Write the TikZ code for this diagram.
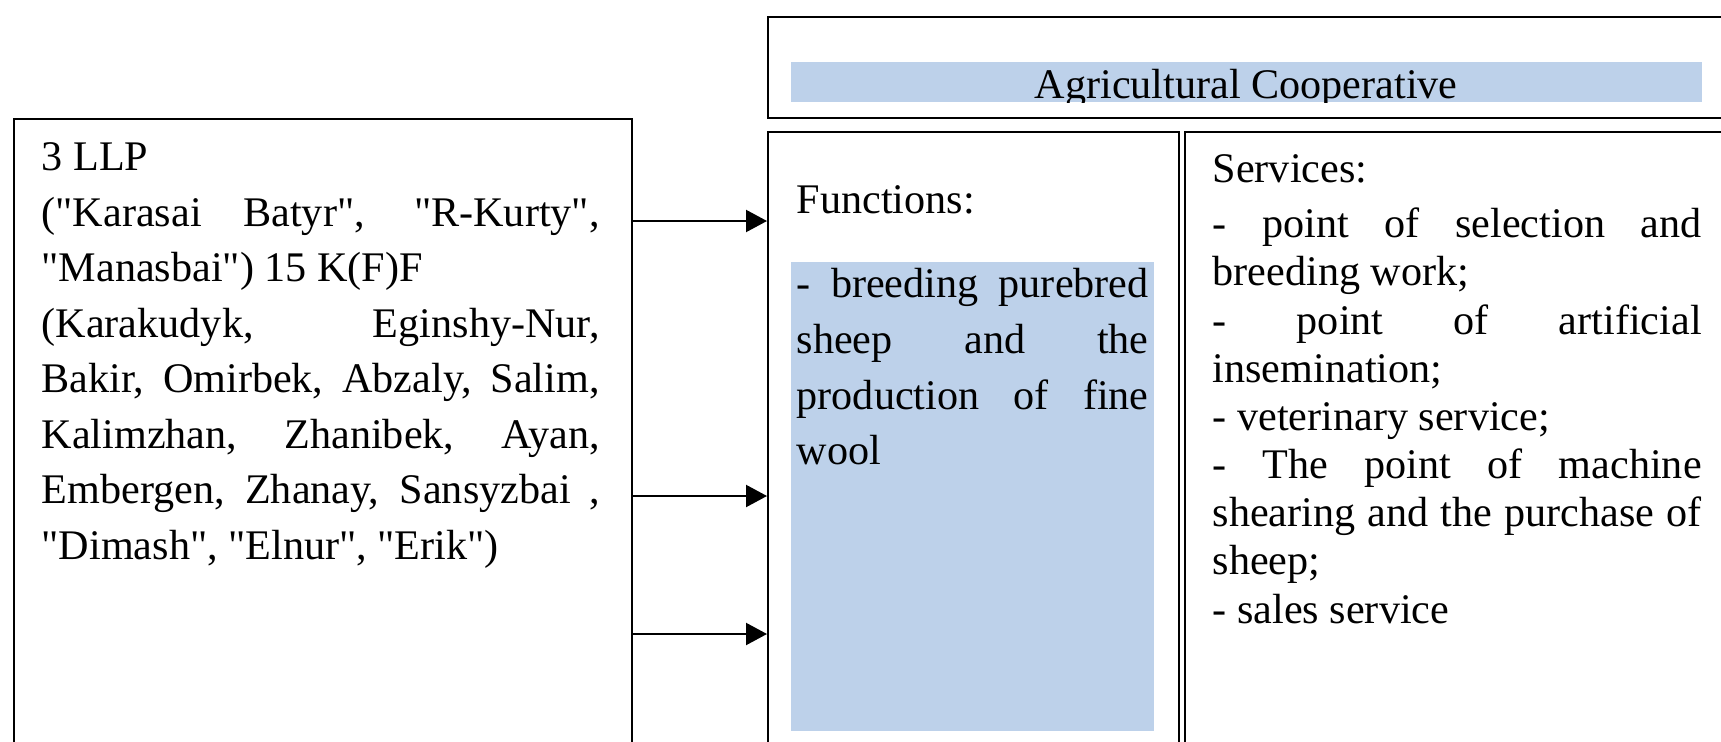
\documentclass[tikz,border=0pt]{standalone}
\usepackage{fontspec}
\setmainfont{Liberation Serif}[Ligatures=TeXOff]
\usetikzlibrary{positioning}
\usetikzlibrary{arrows.meta}
\definecolor{paleblue}{RGB}{189,209,234}
\setlength{\parindent}{0pt}

\tikzset{
	cell/.style={draw, line width=0.6pt, inner sep=0pt, anchor=north west},
	bluefill/.style={fill=paleblue, inner sep=0pt, anchor=north west},
	txt/.style={inner sep=0pt, anchor=north west, align=justify, font=\fontsize{12}{15.8}\selectfont},
	arr/.style={line width=0.6pt, -{Triangle[length=0.21cm,width=0.22cm]}}
}

\begin{document}
\begin{tikzpicture}
	\clip (0,0) rectangle (17.21,7.41);
	
	% frames
	\node[cell, minimum width=6.18cm, minimum height=6.8cm] (llp) at (0.13,6.23) {};
	\node[cell, minimum width=9.8cm, minimum height=1.01cm] (coop) at (7.67,7.25) {};
	\node[cell, minimum width=4.11cm, minimum height=6.5cm] (func) at (7.67,6.10) {};
	\node[cell, minimum width=5.6cm, minimum height=6.5cm] (serv) at (11.84,6.10) {};
	
	% blue areas
	\node[bluefill, minimum width=9.11cm, minimum height=0.40cm] (band) at (7.90,6.80) {};
	\node[bluefill, minimum width=3.63cm, minimum height=4.69cm] (funcfill) at (7.90,4.80) {};
	
	\begin{scope}
		\clip (band.south west) rectangle (band.north east);
		\node[anchor=base, inner sep=0pt, font=\fontsize{12}{14}\selectfont] (title) at ([yshift=0.04cm]band.south) {Agricultural Cooperative};
	\end{scope}
	
	% texts
	\node[txt, text width=5.58cm, below right=0.24cm and 0.28cm of llp.north west] (llptext) {3 LLP\par
		("Karasai Batyr", "R-Kurty",\linebreak "Manasbai") 15 K(F)F\par
		(Karakudyk, Eginshy-Nur,\linebreak Bakir, Omirbek, Abzaly, Salim,\linebreak Kalimzhan, Zhanibek, Ayan,\linebreak Embergen, Zhanay, Sansyzbai ,\linebreak "Dimash", "Elnur", "Erik")};
	
	\node[txt, below right=0.54cm and 0.29cm of func.north west] (functitle) {Functions:};
	\node[txt, text width=3.52cm, below right=0.07cm and 0.06cm of funcfill.north west] (functext) {- breeding purebred\linebreak sheep and the\linebreak production of fine\linebreak wool};
	
	\node[txt, text width=4.89cm, font=\fontsize{12}{13.7}\selectfont, below right=0.23cm and 0.28cm of serv.north west] (servtext) {Services:\par\vspace{2pt}
		- point of selection and\linebreak breeding work;\par
		- point of artificial\linebreak insemination;\par
		- veterinary service;\par
		- The point of machine\linebreak shearing and the purchase of\linebreak sheep;\par
		- sales service};
	
	% arrows
	\foreach \y in {5.20,2.45,1.07}
		\draw[arr] (llp.east |- 0,\y) -- (func.west |- 0,\y);
\end{tikzpicture}
\end{document}
